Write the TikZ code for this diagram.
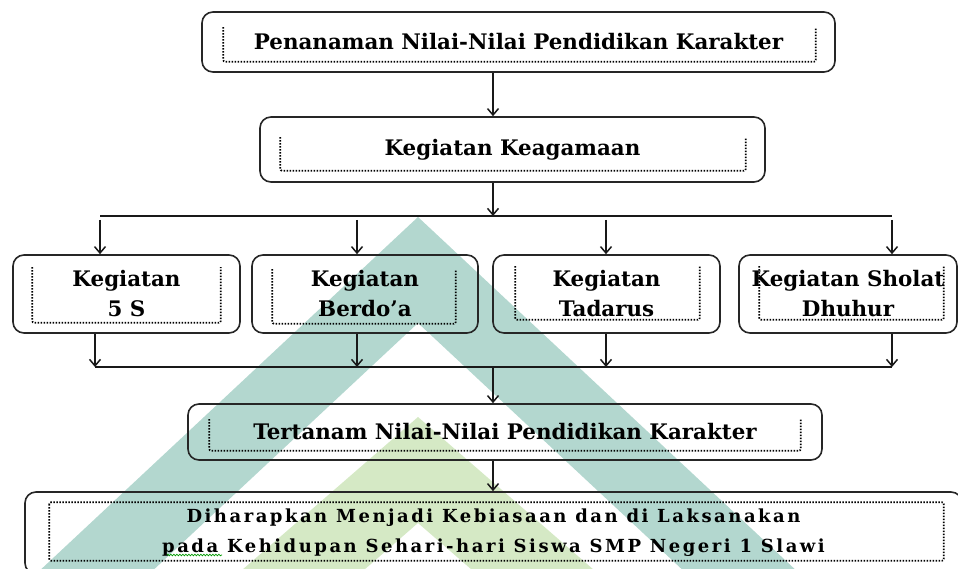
\documentclass[tikz,border=0pt]{standalone}
\usepackage{fontspec}
\setmainfont{DejaVu Serif}
\usetikzlibrary{arrows.meta,decorations.pathmorphing}

\definecolor{wmteal}{RGB}{179,215,207}
\definecolor{wmgreen}{RGB}{213,233,197}

\tikzset{
  box/.style={draw=black!85, line width=1.6pt, rounded corners=11pt, inner sep=0pt,
    align=center, font=\bfseries\fontsize{21.4}{30}\selectfont},
  dots/.style={draw=black, line width=1.7pt, dash pattern=on 1.5pt off 1.5pt, rounded corners=2pt},
  arr/.style={draw=black!90, line width=1.5pt, -{Straight Barb[length=6.5pt,width=11pt,line width=1.5pt]}},
  bar/.style={draw=black!90, line width=1.5pt},
}

% dotted frame inside a box, open at the top
\newcommand{\dotframe}[5]{%
  \draw[dots] ([shift={(#2,#3)}]#1.north west) |- ([shift={(-#4,-#5)}]#1.south east)
    -- ([shift={(-#4,#3)}]#1.north east);}

\begin{document}
\begin{tikzpicture}[x=1pt,y=-1pt]
  \useasboundingbox (0,0) rectangle (958,569);
  \clip (0,0) rectangle (958,569);

  % watermark
  \fill[wmteal] (418,217) -- (846,617) -- (733,617) -- (418,323) -- (103,617) -- (-10,617) -- cycle;
  \fill[wmgreen] (418,417) -- (648,617) -- (526,617) -- (418,523) -- (310,617) -- (188,617) -- cycle;

  % boxes
  \node[box, minimum width=633pt, minimum height=60pt] (nilai) at (518.5,42)
    {Penanaman Nilai-Nilai Pendidikan Karakter};
  \node[box, minimum width=505pt, minimum height=65pt] (agama) at (512.5,149.5)
    {Kegiatan Keagamaan};
  \node[box, minimum width=227pt, minimum height=78pt] (lima) at (126.5,294) {Kegiatan\\5 S};
  \node[box, minimum width=226pt, minimum height=78pt] (doa) at (365,294) {Kegiatan\\Berdo’a};
  \node[box, minimum width=227pt, minimum height=78pt] (tadarus) at (606.5,294) {Kegiatan\\Tadarus};
  \node[box, minimum width=218pt, minimum height=78pt] (sholat) at (848,294) {Kegiatan Sholat\\Dhuhur};
  \node[box, minimum width=634pt, minimum height=56pt] (tertanam) at (505,432)
    {Tertanam Nilai-Nilai Pendidikan Karakter};
  \node[box, minimum width=937pt, minimum height=82pt,
    font=\bfseries\fontsize{18}{30}\selectfont\addfontfeature{LetterSpace=14}] (harap) at (493.5,533)
    {Diharapkan Menjadi Kebiasaan dan di Laksanakan\\pada Kehidupan Sehari-hari Siswa SMP Negeri 1 Slawi};

  % dotted inner frames
  \dotframe{nilai}{22}{16}{20}{11}
  \dotframe{agama}{21}{21}{20}{12}
  \dotframe{lima}{20}{13}{20}{11}
  \dotframe{doa}{21}{15}{23}{10}
  \dotframe{tadarus}{23}{12}{21}{14}
  \dotframe{sholat}{21}{12}{14}{14}
  \dotframe{tertanam}{22}{16}{22}{10}
  \draw[dots] ([shift={(25,11)}]harap.north west) rectangle ([shift={(-19,-14)}]harap.south east);
  \draw[green!60!black, line width=0.7pt, decorate,
    decoration={snake, amplitude=0.8pt, segment length=3pt}] (167,555) -- (222,555);

  % connectors
  \coordinate (spine) at (493,0);
  \coordinate (splitL) at (100,216);
  \coordinate (splitR) at (892,216);
  \coordinate (joinL) at (95,367);
  \coordinate (joinR) at (892,367);
  \draw[arr] (nilai.south -| spine) -- (agama.north -| spine);
  \draw[arr] (agama.south -| spine) -- (splitL -| spine);
  \draw[bar] (splitL) -- (splitR);
  \draw[bar] (joinL) -- (joinR);
  \foreach \n/\a/\b in {lima/100/95, doa/357/357, tadarus/606/606, sholat/892/892} {
    \draw[arr] ([yshift=-4pt]splitL -| \a,0) -- (\n.north -| \a,0);
    \draw[arr] (\n.south -| \b,0) -- (joinL -| \b,0);
  }
  \draw[arr] (joinL -| spine) -- (tertanam.north -| spine);
  \draw[arr] (tertanam.south -| spine) -- (harap.north -| spine);
\end{tikzpicture}
\end{document}
